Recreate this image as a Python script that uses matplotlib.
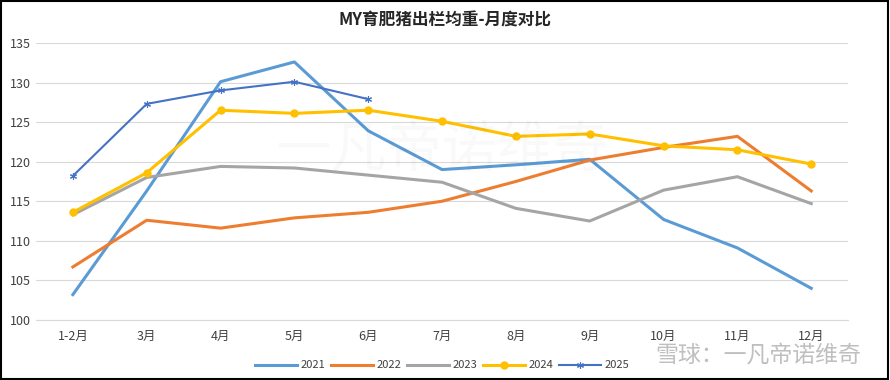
import matplotlib.pyplot as plt
from matplotlib.patches import Rectangle

plt.rcParams['font.family'] = ['Noto Sans CJK SC', 'DejaVu Sans']

months = ['1-2月', '3月', '4月', '5月', '6月', '7月', '8月', '9月', '10月', '11月', '12月']
w2021 = [103.2, 116.3, 130.1, 132.6, 123.9, 119.0, 119.6, 120.3, 112.7, 109.1, 104.0]
w2022 = [106.7, 112.6, 111.6, 112.9, 113.6, 115.0, 117.5, 120.2, 121.8, 123.2, 116.3]
w2023 = [113.3, 118.0, 119.4, 119.2, 118.3, 117.4, 114.1, 112.5, 116.4, 118.1, 114.7]
w2024 = [113.6, 118.6, 126.5, 126.1, 126.5, 125.1, 123.2, 123.5, 122.0, 121.5, 119.7]
w2025 = [118.2, 127.3, 129.0, 130.1, 127.9]

fig = plt.figure(figsize=(8.9, 3.8), dpi=100)
ax = fig.add_axes([0.0404, 0.158, 0.9126, 0.729])

x = range(len(months))
ax.plot(x, w2021, color='#5B9BD5', lw=2.2, label='2021')
ax.plot(x, w2022, color='#ED7D31', lw=2.2, label='2022')
ax.plot(x, w2023, color='#A5A5A5', lw=2.2, label='2023')
ax.plot(x, w2024, color='#FFC000', lw=2.2, marker='o', markersize=5, label='2024')
ax.plot(range(len(w2025)), w2025, color='#4472C4', lw=1.5, marker=(6, 2, 0),
        markersize=5, markeredgewidth=0.8, label='2025')

ax.set_xlim(-0.5, len(months) - 0.5)
ax.set_ylim(100, 135)
ax.set_yticks(range(100, 136, 5))
ax.set_xticks(list(x))
ax.set_xticklabels(months)
ax.tick_params(length=0, labelsize=9, colors='#404040')
ax.tick_params(axis='x', pad=7)
ax.grid(axis='y', color='#D9D9D9', lw=0.8)
ax.set_axisbelow(True)
for s in ax.spines.values():
    s.set_visible(False)
ax.spines['bottom'].set_visible(True)
ax.spines['bottom'].set_color('#D9D9D9')

fig.text(0.5, 0.945, 'MY育肥猪出栏均重-月度对比', ha='center', va='center',
         fontsize=12, fontweight='bold', color='#262626')

ax.legend(loc='upper center', bbox_to_anchor=(0.5, -0.11), ncol=5, frameon=False,
          fontsize=8, handlelength=3.8, columnspacing=0.5, handletextpad=0.3,
          labelcolor='#404040')

# watermarks
fig.text(0.31, 0.6, '一凡帝诺维奇', fontsize=40, color='#000000', alpha=0.025,
         ha='left', va='center')
fig.text(0.968, 0.064, '雪球：一凡帝诺维奇', fontsize=16.5, color='#BFBFBF',
         ha='right', va='center')

fig.patches.append(Rectangle((0.001, 0.002), 0.997, 0.995, transform=fig.transFigure,
                             fill=False, edgecolor='black', lw=1.5))

fig.savefig('out.png', dpi=100)
